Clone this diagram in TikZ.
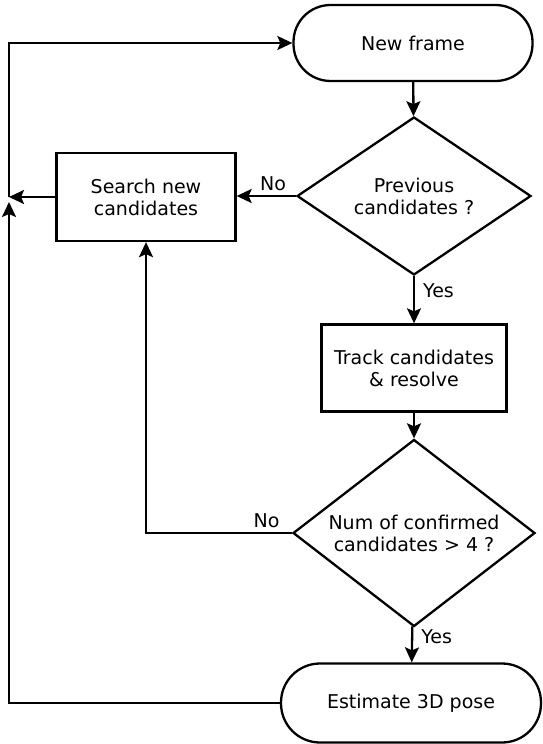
\documentclass[tikz,border=0pt]{standalone}
\usepackage{fontspec}
\setmainfont{DejaVu Sans}
\usetikzlibrary{arrows.meta, shapes.geometric}

\begin{document}
\begin{tikzpicture}[
  x=1pt, y=-1pt,
  >={Stealth[length=15pt, width=14pt, inset=3pt]},
  font=\fontsize{19}{22}\selectfont,
  terminal/.style={
    draw, line width=2.3pt, rounded corners=37pt,
    minimum height=76pt, align=center
  },
  process/.style={
    draw, line width=2.3pt, align=center
  },
  decision/.style={
    draw, diamond, line width=2.3pt, inner sep=0pt, align=center
  },
  arr/.style={->, line width=2.3pt},
]

\useasboundingbox (0,0) rectangle (543,744);

% Start of the loop
\node[terminal, minimum width=239pt] (frame) at (413,43) {New frame};

% First test
\node[decision, aspect=1.48, minimum width=234pt, minimum height=158pt]
  (prev) at (414,196) {Previous\\candidates ?};

\node[process, minimum width=179pt, minimum height=88pt] (search) at (146,197)
  {Search new\\candidates};

\node[process, minimum width=185pt, minimum height=87pt] (track) at (414,368)
  {Track candidates\\\& resolve};

% Second test
\node[decision, aspect=1.29, minimum width=242pt, minimum height=187pt]
  (conf) at (414,533) {Num of confirmed\\candidates > 4 ?};

% End of the loop
\node[terminal, minimum width=260pt, minimum height=79pt, rounded corners=39pt]
  (pose) at (411,703) {Estimate 3D pose};

% Return line on the left
\coordinate (join) at (9,197);
\coordinate (joinup) at (9,202);

% Arrows
\draw[arr] (frame) -- (prev);
\draw[arr] (prev.west) -- node[pos=0.08, above left, inner sep=4pt] {No}
  (prev.west -| search.east);
\draw[arr] (prev) -- node[pos=0.3, right, inner sep=8pt] {Yes} (track);
\draw[arr] (track) -- (conf);
\draw[arr] (conf) -- node[pos=0.3, right, inner sep=8pt] {Yes} (pose);
\draw[arr] (conf.west) -- node[pos=0.05, above left, inner sep=4pt] {No}
  (conf.west -| search.south) -- (search.south);
\draw[arr] (search.west) -- (join);
\draw[arr] (pose.west) -| (joinup);
\draw[arr] (join) |- (frame.west);

\end{tikzpicture}
\end{document}
